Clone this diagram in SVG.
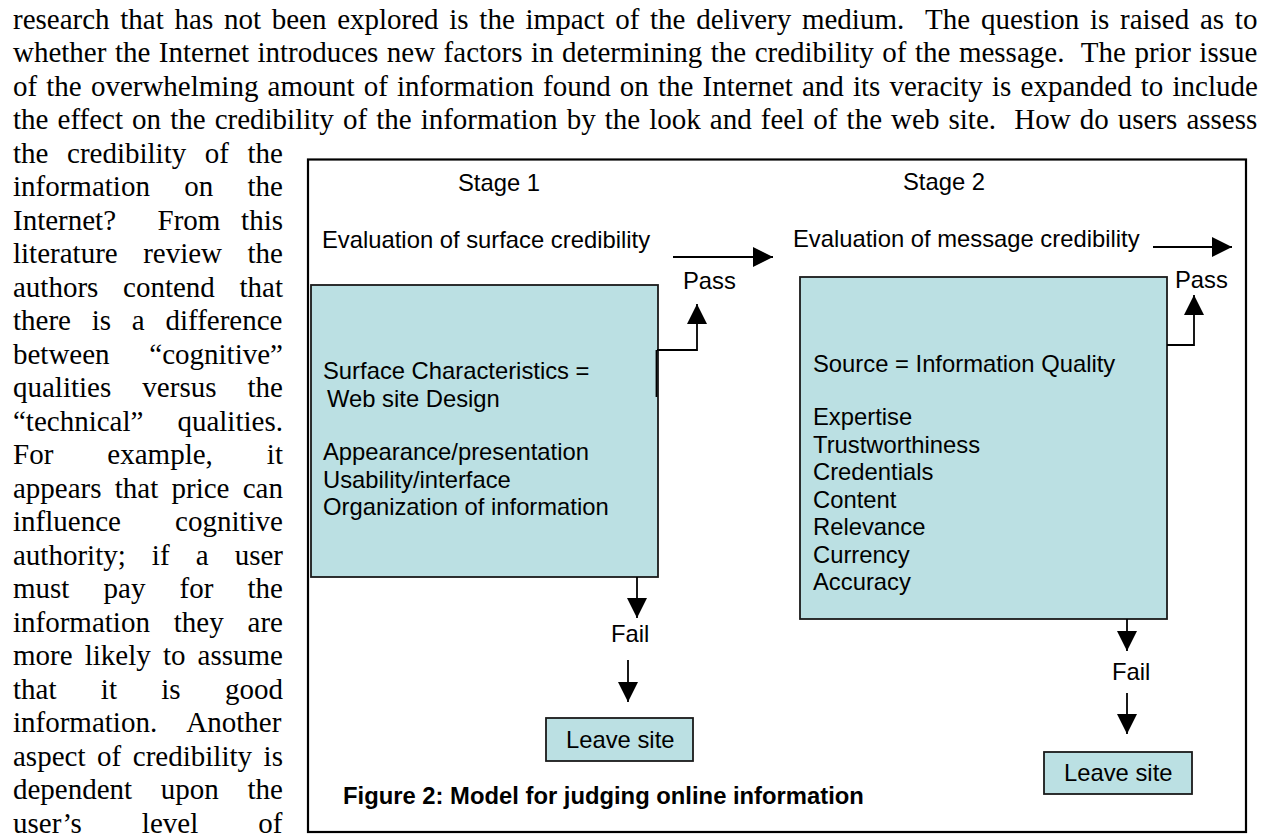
<svg xmlns="http://www.w3.org/2000/svg" width="1270" height="838" viewBox="0 0 1270 838">
<style>
.body{font-family:"Liberation Serif","Times New Roman",serif;font-size:29px;fill:#000}
.dg{font-family:"Liberation Sans",Arial,sans-serif;font-size:23.8px;fill:#000}
.cap{font-family:"Liberation Sans",Arial,sans-serif;font-size:23.8px;font-weight:bold;fill:#000}
.box{fill:#bbe0e3;stroke:#1a1a1a;stroke-width:1.8}
.frame{fill:#fff;stroke:#000;stroke-width:2.2}
.con{fill:none;stroke:#000;stroke-width:1.8}
</style>
<defs>
<marker id="ah" markerWidth="20" markerHeight="20" refX="20" refY="10" orient="auto" markerUnits="userSpaceOnUse">
<path d="M0,0 L20,10 L0,20 Z" fill="#000"/>
</marker>
</defs>
<rect width="1270" height="838" fill="#fff"/>
<g id="body-text">
<text class="body" x="13" y="28.5" xml:space="preserve" style="word-spacing:3.47px">research that has not been explored is the impact of the delivery medium.  The question is raised as to</text>
<text class="body" x="13" y="62" xml:space="preserve" style="word-spacing:1.25px">whether the Internet introduces new factors in determining the credibility of the message.  The prior issue</text>
<text class="body" x="13" y="95.5" style="word-spacing:1.9px">of the overwhelming amount of information found on the Internet and its veracity is expanded to include</text>
<text class="body" x="13" y="129" xml:space="preserve" style="word-spacing:1.83px">the effect on the credibility of the information by the look and feel of the web site.  How do users assess</text>
<text class="body" x="13" y="162.5" style="word-spacing:11.33px">the credibility of the</text>
<text class="body" x="13" y="196" style="word-spacing:27.06px">information on the</text>
<text class="body" x="13" y="229.5" xml:space="preserve" style="word-spacing:13.48px">Internet?  From this</text>
<text class="body" x="13" y="263" style="word-spacing:18.23px">literature review the</text>
<text class="body" x="13" y="296.5" style="word-spacing:17.41px">authors contend that</text>
<text class="body" x="13" y="330" style="word-spacing:13.51px">there is a difference</text>
<text class="body" x="13" y="363.5" style="word-spacing:32.43px">between “cognitive”</text>
<text class="body" x="13" y="397" style="word-spacing:23.85px">qualities versus the</text>
<text class="body" x="13" y="430.5" style="word-spacing:26.78px">“technical” qualities.</text>
<text class="body" x="13" y="464" style="word-spacing:46.8px">For example, it</text>
<text class="body" x="13" y="497.5" style="word-spacing:5.99px">appears that price can</text>
<text class="body" x="13" y="531" style="word-spacing:46.9px">influence cognitive</text>
<text class="body" x="13" y="564.5" style="word-spacing:18.85px">authority; if a user</text>
<text class="body" x="13" y="598" style="word-spacing:26.91px">must pay for the</text>
<text class="body" x="13" y="631.5" style="word-spacing:16.61px">information they are</text>
<text class="body" x="13" y="665" style="word-spacing:4.88px">more likely to assume</text>
<text class="body" x="13" y="698.5" style="word-spacing:37.09px">that it is good</text>
<text class="body" x="13" y="732" xml:space="preserve" style="word-spacing:8.14px">information.  Another</text>
<text class="body" x="13" y="765.5" style="word-spacing:4.35px">aspect of credibility is</text>
<text class="body" x="13" y="799" style="word-spacing:21.44px">dependent upon the</text>
<text class="body" x="13" y="832.5" style="word-spacing:52.85px">user’s level of</text>
</g>
<g id="figure-frame">
<rect class="frame" x="308" y="159.5" width="938" height="672.5"/>
</g>
<g id="stage1-label"><text class="dg" x="458" y="190.5">Stage 1</text></g>
<g id="stage2-label"><text class="dg" x="903" y="189.5">Stage 2</text></g>
<g id="eval-surface"><text class="dg" x="322" y="247.5">Evaluation of surface credibility</text></g>
<g id="eval-message"><text class="dg" x="793" y="246.5">Evaluation of message credibility</text></g>
<g id="box-surface">
<rect class="box" x="311" y="285" width="347" height="292"/>
<text class="dg" x="323" y="378.5">Surface Characteristics =</text>
<text class="dg" x="327" y="407">Web site Design</text>
<text class="dg" x="323" y="460">Appearance/presentation</text>
<text class="dg" x="323" y="487.5">Usability/interface</text>
<text class="dg" x="323" y="515">Organization of information</text>
</g>
<g id="box-message">
<rect class="box" x="800" y="277" width="367" height="342"/>
<text class="dg" x="813" y="372">Source = Information Quality</text>
<text class="dg" x="813" y="425">Expertise</text>
<text class="dg" x="813" y="452.5">Trustworthiness</text>
<text class="dg" x="813" y="480">Credentials</text>
<text class="dg" x="813" y="507.5">Content</text>
<text class="dg" x="813" y="535">Relevance</text>
<text class="dg" x="813" y="562.5">Currency</text>
<text class="dg" x="813" y="590">Accuracy</text>
</g>
<g id="pass1-label"><text class="dg" x="683" y="288.5">Pass</text></g>
<g id="pass2-label"><text class="dg" x="1175" y="288">Pass</text></g>
<g id="fail1-label"><text class="dg" x="611" y="641.5">Fail</text></g>
<g id="fail2-label"><text class="dg" x="1112" y="680">Fail</text></g>
<g id="leave-site-1">
<rect class="box" x="546" y="718" width="147" height="43"/>
<text class="dg" x="566" y="747.5">Leave site</text>
</g>
<g id="leave-site-2">
<rect class="box" x="1044" y="752" width="148" height="42"/>
<text class="dg" x="1064" y="781">Leave site</text>
</g>
<g id="caption"><text class="cap" x="343" y="803.5">Figure 2: Model for judging online information</text></g>
<g id="connectors">
<line class="con" x1="673" y1="257" x2="773" y2="257" marker-end="url(#ah)"/>
<line class="con" x1="1153" y1="247" x2="1232" y2="247" marker-end="url(#ah)"/>
<line class="con" x1="656.5" y1="350" x2="656.5" y2="397"/>
<polyline class="con" points="657,350 697,350 697,304" marker-end="url(#ah)"/>
<polyline class="con" points="1167,345 1194,345 1194,295" marker-end="url(#ah)"/>
<line class="con" x1="637" y1="577" x2="637" y2="618" marker-end="url(#ah)"/>
<line class="con" x1="628" y1="660" x2="628" y2="702" marker-end="url(#ah)"/>
<line class="con" x1="1127" y1="619" x2="1127" y2="651" marker-end="url(#ah)"/>
<line class="con" x1="1127" y1="693" x2="1127" y2="734" marker-end="url(#ah)"/>
</g>
</svg>
